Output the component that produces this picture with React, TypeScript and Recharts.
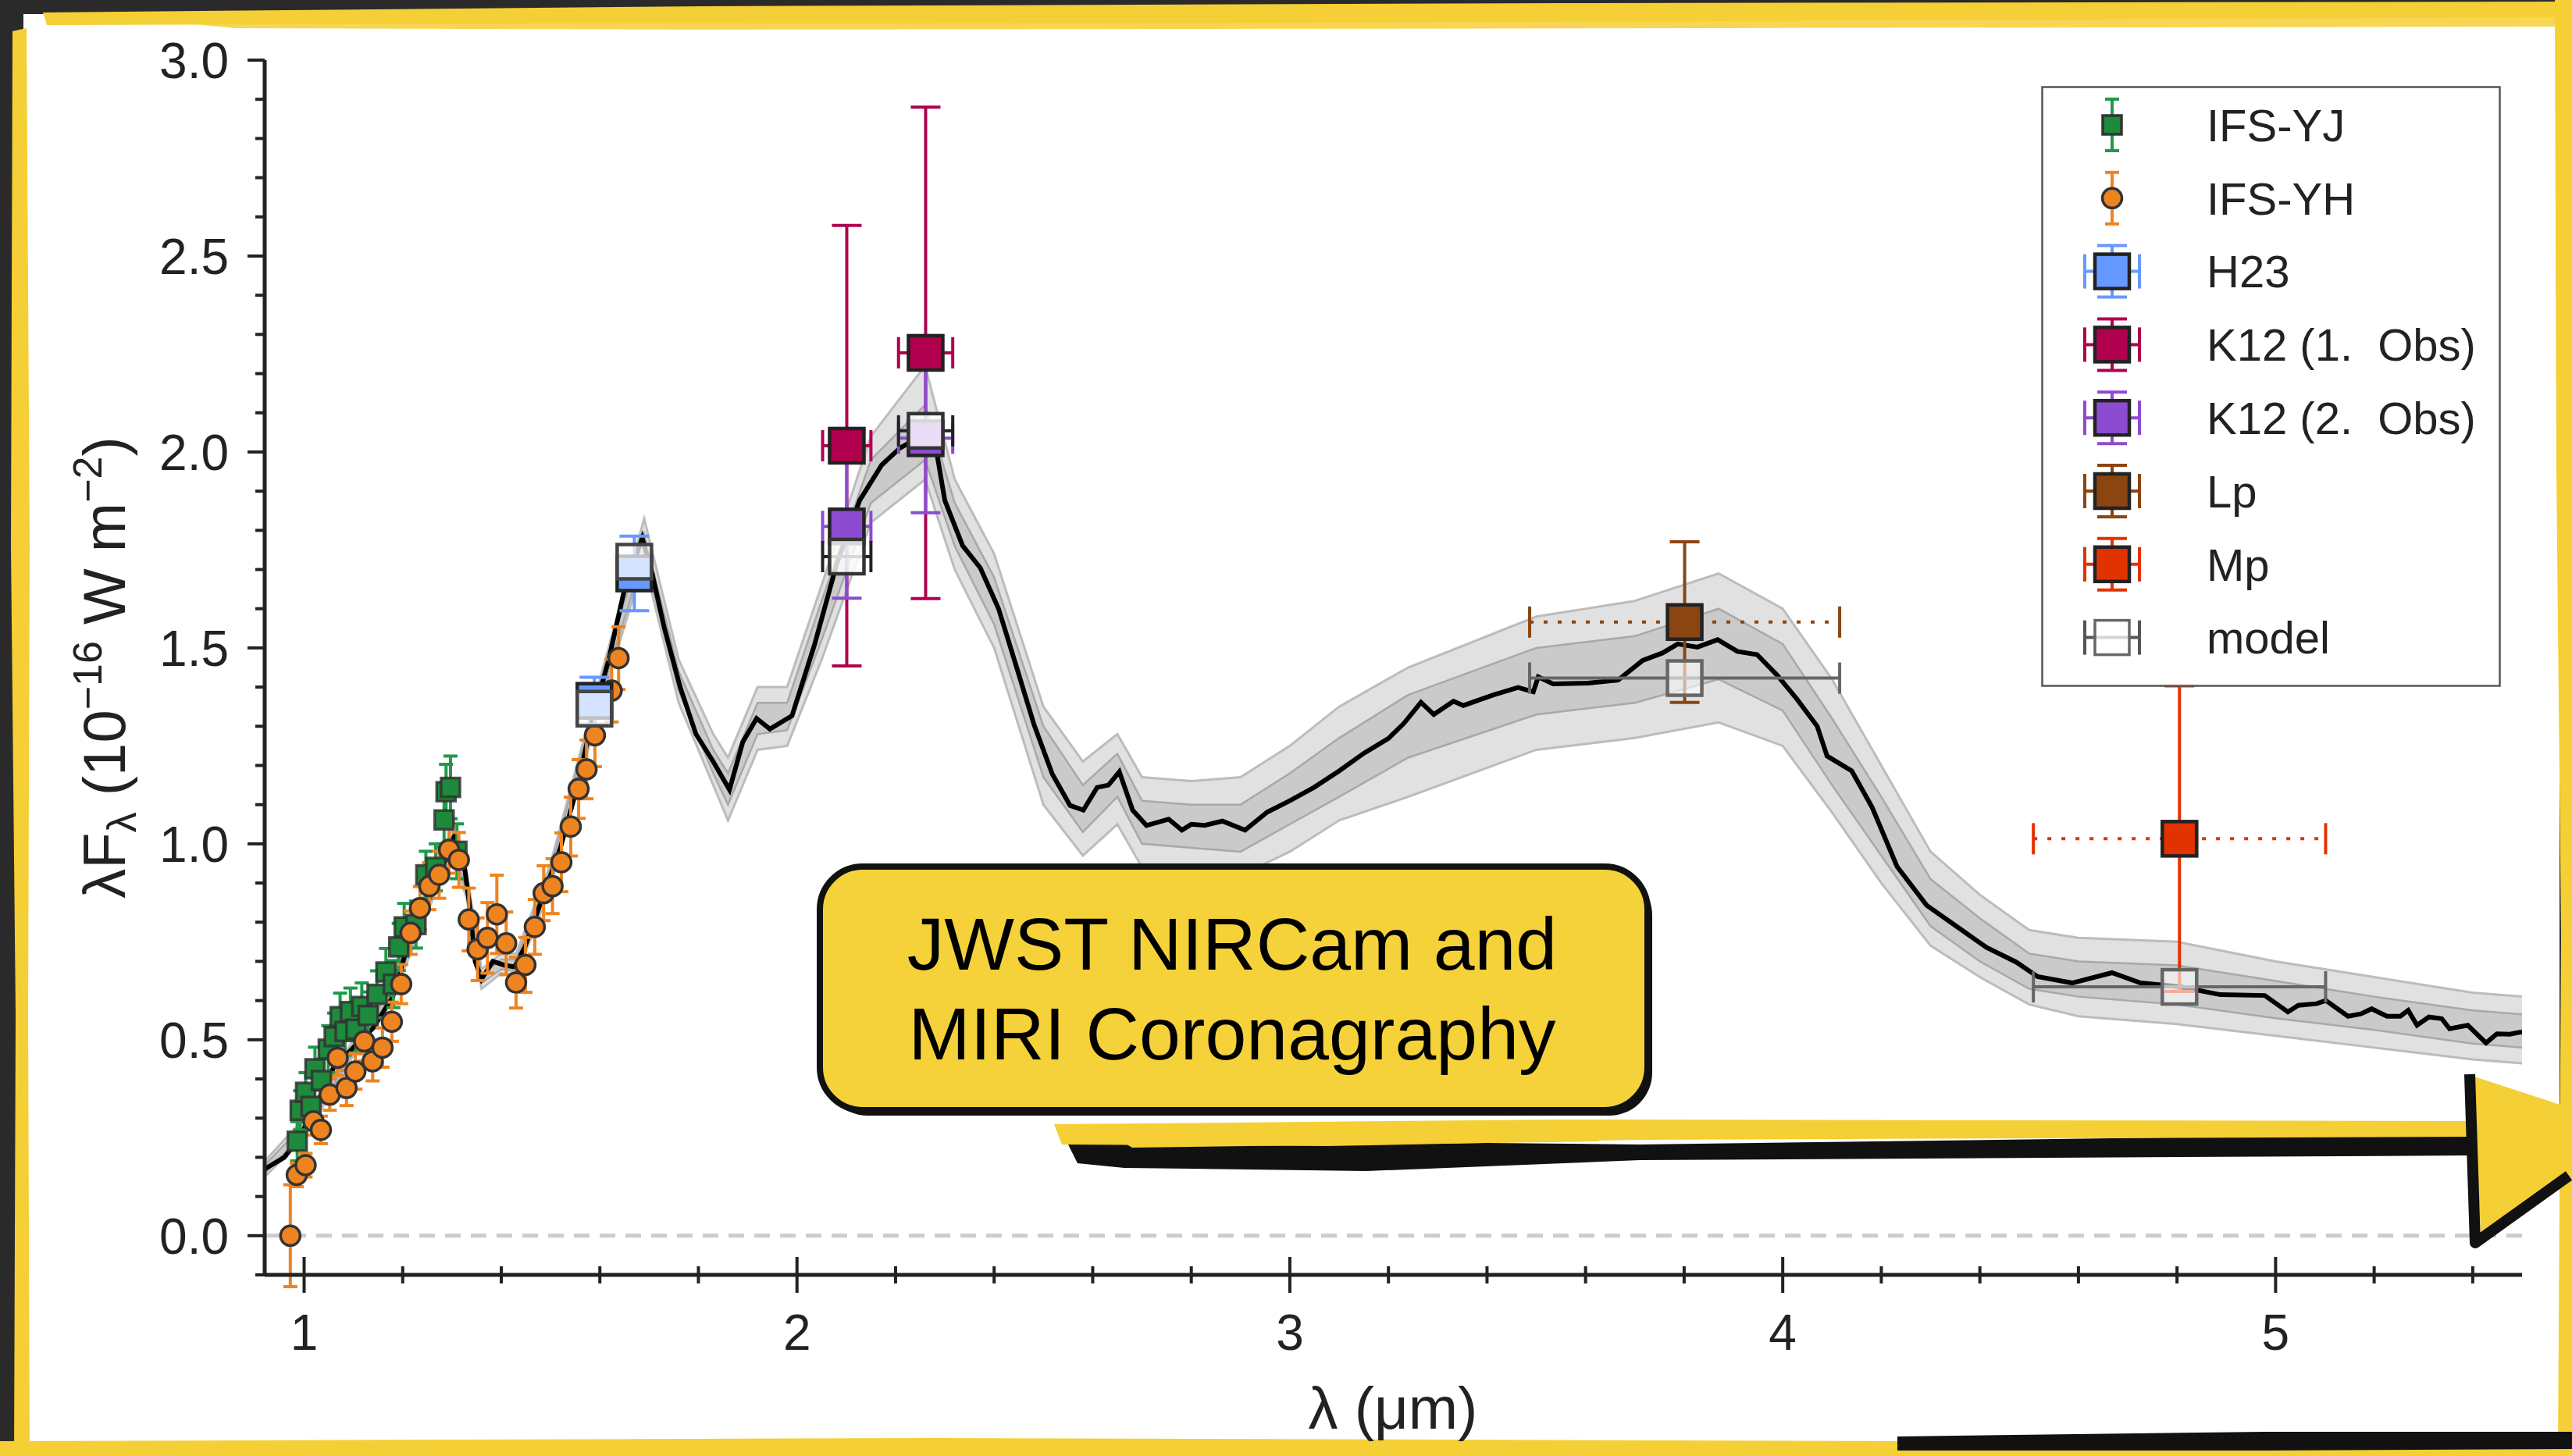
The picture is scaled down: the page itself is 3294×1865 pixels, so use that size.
import React from 'react';
import {
  ComposedChart,
  Line,
  Area,
  Scatter,
  ErrorBar,
  XAxis,
  YAxis,
  ReferenceLine,
  Legend,
} from 'recharts';

const W = 3294;
const H = 1865;
const FONT = '"Liberation Sans", Arial, sans-serif';

// best-fit model spectrum (black line)
const modelWave = [
  0.92, 0.96, 0.99, 1.02, 1.06, 1.1, 1.14, 1.18, 1.21, 1.245, 1.28, 1.305, 1.32, 1.335, 1.347,
  1.36, 1.383, 1.407, 1.427, 1.448, 1.48, 1.52, 1.553, 1.585, 1.618, 1.65, 1.686, 1.706, 1.731,
  1.763, 1.795, 1.83, 1.863, 1.89, 1.918, 1.945, 1.99, 2.036, 2.081, 2.127, 2.172, 2.209, 2.245,
  2.282, 2.3, 2.336, 2.372, 2.409, 2.445, 2.481, 2.518, 2.554, 2.581, 2.609, 2.632, 2.654, 2.681,
  2.709, 2.754, 2.781, 2.8, 2.827, 2.863, 2.909, 2.954, 3.0, 3.049, 3.1, 3.15, 3.2, 3.231, 3.266,
  3.292, 3.332, 3.352, 3.413, 3.463, 3.494, 3.504, 3.534, 3.605, 3.666, 3.716, 3.756, 3.787,
  3.827, 3.868, 3.908, 3.948, 3.989, 4.029, 4.07, 4.09, 4.14, 4.181, 4.232, 4.292, 4.353, 4.413,
  4.474, 4.517, 4.587, 4.668, 4.726, 4.807, 4.888, 4.978, 5.025, 5.046, 5.083, 5.102, 5.147,
  5.173, 5.195, 5.226, 5.253, 5.269, 5.287, 5.311, 5.337, 5.353, 5.39, 5.427, 5.449, 5.475, 5.5,
];
const modelFlux = [
  0.17, 0.2, 0.25, 0.32, 0.43, 0.48, 0.53, 0.61, 0.74, 0.85, 0.94, 1.02, 0.99, 0.85, 0.7,
  0.655, 0.7, 0.69, 0.686, 0.737, 0.85, 0.99, 1.14, 1.32, 1.47, 1.65, 1.78, 1.69, 1.55,
  1.4, 1.28, 1.21, 1.138, 1.26, 1.32, 1.293, 1.327, 1.51, 1.716, 1.876, 1.967, 2.01, 2.036,
  2.01, 1.876, 1.761, 1.704, 1.6, 1.453, 1.304, 1.178, 1.098, 1.086, 1.144, 1.15, 1.184, 1.086,
  1.047, 1.063, 1.035, 1.05, 1.047, 1.058, 1.035, 1.081, 1.11, 1.144, 1.186, 1.231, 1.269, 1.307, 1.361,
  1.33, 1.364, 1.353, 1.38, 1.399, 1.388, 1.426, 1.408, 1.41, 1.418, 1.468, 1.487, 1.51,
  1.502, 1.521, 1.491, 1.483, 1.43, 1.369, 1.3, 1.224, 1.186, 1.094, 0.942, 0.843, 0.789, 0.736,
  0.698, 0.661, 0.645, 0.671, 0.645, 0.635, 0.615, 0.613, 0.571, 0.588, 0.592, 0.6, 0.56,
  0.566, 0.579, 0.56, 0.56, 0.575, 0.537, 0.558, 0.554, 0.528, 0.537, 0.492, 0.515, 0.514, 0.52,
];

// spread of the grey sample spectra: outer envelope and denser core
const bandWave = [
  0.92, 1.0, 1.1, 1.2, 1.3, 1.33, 1.36, 1.4, 1.43, 1.5, 1.6, 1.69, 1.76, 1.83, 1.86, 1.92, 1.98,
  2.05, 2.15, 2.26, 2.32, 2.4, 2.5, 2.58, 2.65, 2.7, 2.8, 2.9, 3.0, 3.1, 3.24, 3.5, 3.7, 3.87,
  4.0, 4.1, 4.2, 4.3, 4.4, 4.5, 4.6, 4.8, 5.0, 5.2, 5.4, 5.5,
];
const bandLow = [
  0.15, 0.25, 0.46, 0.67, 0.98, 0.86, 0.63, 0.67, 0.66, 0.89, 1.35, 1.72, 1.36, 1.15, 1.06, 1.24, 1.25,
  1.47, 1.82, 1.93, 1.7, 1.5, 1.1, 0.97, 1.05, 0.94, 0.93, 0.92, 0.98, 1.06, 1.12, 1.24, 1.27, 1.31,
  1.25, 1.08, 0.9, 0.74, 0.66, 0.59, 0.56, 0.54, 0.51, 0.48, 0.45, 0.44,
];
const bandHigh = [
  0.19, 0.3, 0.5, 0.73, 1.04, 0.93, 0.68, 0.72, 0.72, 0.95, 1.42, 1.83, 1.47, 1.28, 1.22, 1.4, 1.4,
  1.66, 2.04, 2.22, 1.93, 1.74, 1.35, 1.21, 1.28, 1.17, 1.16, 1.17, 1.25, 1.35, 1.45, 1.58, 1.62, 1.69,
  1.6, 1.42, 1.2, 0.98, 0.87, 0.78, 0.76, 0.75, 0.7, 0.66, 0.62, 0.61,
];
const coreLow = [
  0.16, 0.26, 0.47, 0.685, 0.99, 0.88, 0.645, 0.68, 0.675, 0.905, 1.37, 1.74, 1.39, 1.18, 1.1, 1.28, 1.29,
  1.52, 1.87, 1.98, 1.76, 1.56, 1.17, 1.03, 1.12, 1.0, 0.99, 0.98, 1.05, 1.12, 1.22, 1.33, 1.36, 1.42,
  1.34, 1.15, 0.97, 0.79, 0.7, 0.63, 0.61, 0.59, 0.555, 0.525, 0.49, 0.48,
];
const coreHigh = [
  0.18, 0.285, 0.49, 0.715, 1.02, 0.91, 0.665, 0.705, 0.705, 0.935, 1.405, 1.79, 1.44, 1.24, 1.18, 1.36, 1.36,
  1.62, 1.98, 2.12, 1.87, 1.68, 1.3, 1.15, 1.23, 1.11, 1.1, 1.1, 1.18, 1.27, 1.38, 1.5, 1.53, 1.6,
  1.51, 1.32, 1.12, 0.91, 0.81, 0.72, 0.7, 0.69, 0.65, 0.61, 0.575, 0.565,
];

// SPHERE IFS YJ
const yjWave = [
  0.986, 0.992, 1.003, 1.014, 1.022, 1.035, 1.049, 1.061, 1.073, 1.083, 1.094, 1.105, 1.117,
  1.13, 1.148, 1.166, 1.181, 1.192, 1.203, 1.227, 1.247, 1.267, 1.284, 1.288, 1.297, 1.31,
];
const yjFlux = [
  0.241, 0.32, 0.366, 0.33, 0.426, 0.396, 0.476, 0.508, 0.559, 0.521, 0.572, 0.527, 0.585,
  0.562, 0.616, 0.673, 0.642, 0.737, 0.788, 0.794, 0.921, 0.94, 1.061, 1.133, 1.144, 0.981,
];
const yjErr = [
  0.05, 0.05, 0.05, 0.05, 0.055, 0.055, 0.06, 0.06, 0.06, 0.06, 0.06, 0.06, 0.06,
  0.06, 0.06, 0.06, 0.06, 0.06, 0.06, 0.06, 0.06, 0.06, 0.07, 0.07, 0.08, 0.07,
];

// SPHERE IFS YH
const yhWave = [
  0.972, 0.985, 1.003, 1.019, 1.034, 1.052, 1.068, 1.086, 1.104, 1.122, 1.139, 1.159, 1.178,
  1.197, 1.216, 1.235, 1.254, 1.274, 1.294, 1.314, 1.334, 1.352, 1.372, 1.391, 1.41, 1.43,
  1.449, 1.468, 1.486, 1.504, 1.522, 1.541, 1.557, 1.573, 1.59, 1.624, 1.638,
];
const yhFlux = [
  0.0, 0.155, 0.18, 0.292, 0.27, 0.36, 0.454, 0.377, 0.419, 0.496, 0.445, 0.48, 0.546,
  0.642, 0.773, 0.836, 0.892, 0.921, 0.985, 0.959, 0.807, 0.731, 0.76, 0.82, 0.746, 0.646,
  0.691, 0.788, 0.874, 0.892, 0.953, 1.044, 1.14, 1.19, 1.277, 1.391, 1.474,
];
const yhErr = [
  0.13, 0.03, 0.03, 0.035, 0.035, 0.04, 0.045, 0.045, 0.045, 0.05, 0.05, 0.05, 0.05,
  0.05, 0.055, 0.055, 0.06, 0.06, 0.06, 0.07, 0.08, 0.08, 0.09, 0.1, 0.08, 0.065,
  0.07, 0.07, 0.07, 0.07, 0.075, 0.075, 0.075, 0.075, 0.08, 0.08, 0.08,
];

// photometry
const h23Wave = [1.589, 1.67];
const h23Flux = [1.365, 1.69];
const h23Err = [0.06, 0.095];

const k12aWave = [2.101, 2.261];
const k12aFlux = [2.016, 2.253];
const k12aErr = [0.562, 0.627];
const k12aHalfWidth = [0.049, 0.055];

const k12bWave = [2.101, 2.261];
const k12bFlux = [1.81, 2.035];
const k12bErr = [0.183, 0.19];
const k12bHalfWidth = [0.049, 0.055];

const lpWave = [3.801];
const lpFlux = [1.566];
const lpErr = [0.205];
const lpHalfWidth = [0.3145];

const mpWave = [4.805];
const mpFlux = [1.013];
const mpErr = [0.39];
const mpHalfWidth = [0.2965];

// model photometry at the same bands
const modelPhotWave = [1.589, 1.67, 2.101, 2.261, 3.801, 4.805];
const modelPhotFlux = [1.345, 1.72, 1.733, 2.054, 1.423, 0.635];
const modelPhotHalfWidth = [0, 0, 0.049, 0.055, 0.3145, 0.2965];

// axes
const xDomain = [0.92, 5.5];
const yDomain = [-0.1, 3.0];
const xTicks = [
  1.0, 1.2, 1.4, 1.6, 1.8, 2.0, 2.2, 2.4, 2.6, 2.8, 3.0, 3.2, 3.4, 3.6, 3.8, 4.0, 4.2, 4.4, 4.6,
  4.8, 5.0, 5.2, 5.4,
];
const xMajor = [1, 2, 3, 4, 5];
const yTicks = [
  -0.1, 0.0, 0.1, 0.2, 0.3, 0.4, 0.5, 0.6, 0.7, 0.8, 0.9, 1.0, 1.1, 1.2, 1.3, 1.4, 1.5, 1.6, 1.7,
  1.8, 1.9, 2.0, 2.1, 2.2, 2.3, 2.4, 2.5, 2.6, 2.7, 2.8, 2.9, 3.0,
];
const yMajor = [0.0, 0.5, 1.0, 1.5, 2.0, 2.5, 3.0];

const legendLabels = [
  'IFS-YJ',
  'IFS-YH',
  'H23',
  'K12 (1.  Obs)',
  'K12 (2.  Obs)',
  'Lp',
  'Mp',
  'model',
];

const modelData = modelWave.map((x, i) => ({ x, y: modelFlux[i] }));
const bandData = bandWave.map((x, i) => ({ x, range: [bandLow[i], bandHigh[i]] }));
const coreData = bandWave.map((x, i) => ({ x, range: [coreLow[i], coreHigh[i]] }));
const yjData = yjWave.map((x, i) => ({ x, y: yjFlux[i], ey: yjErr[i] }));
const yhData = yhWave.map((x, i) => ({ x, y: yhFlux[i], ey: yhErr[i] }));
const h23Data = h23Wave.map((x, i) => ({ x, y: h23Flux[i], ey: h23Err[i] }));
const k12aData = k12aWave.map((x, i) => ({ x, y: k12aFlux[i], ey: k12aErr[i], ex: k12aHalfWidth[i] }));
const k12bData = k12bWave.map((x, i) => ({ x, y: k12bFlux[i], ey: k12bErr[i], ex: k12bHalfWidth[i] }));
const lpData = lpWave.map((x, i) => ({ x, y: lpFlux[i], ey: lpErr[i] }));
const mpData = mpWave.map((x, i) => ({ x, y: mpFlux[i], ey: mpErr[i] }));
// filter band edges of Lp / Mp (dotted horizontal bars)
const lpSpan = [
  { x: lpWave[0] - lpHalfWidth[0], y: lpFlux[0] },
  { x: lpWave[0] + lpHalfWidth[0], y: lpFlux[0] },
];
const mpSpan = [
  { x: mpWave[0] - mpHalfWidth[0], y: mpFlux[0] },
  { x: mpWave[0] + mpHalfWidth[0], y: mpFlux[0] },
];
const modelPhot = modelPhotWave.map((x, i) => ({ x, y: modelPhotFlux[i], ex: modelPhotHalfWidth[i] }));
const modelNoBar = modelPhot.slice(0, 2);
const modelK12 = modelPhot.slice(2, 4);
const modelLM = modelPhot.slice(4);

const C = {
  yj: '#1d8a3c',
  yjBar: '#1f9a48',
  yh: '#ee8420',
  h23: '#6699ff',
  k12a: '#b0004e',
  k12b: '#8c4bd0',
  lp: '#8b4511',
  mp: '#e23200',
  edge: '#222222',
  axis: '#222222',
};

const isMajor = (list: number[], v: number) => list.some((m) => Math.abs(m - v) < 1e-6);

const LeftTick = (p: any) => {
  const v = p.payload.value;
  const major = isMajor(yMajor, v);
  return (
    <g>
      <line x1={p.x - (major ? 22 : 12)} x2={p.x} y1={p.y} y2={p.y} stroke={C.axis} strokeWidth={4} />
      {major && (
        <text x={p.x - 46} y={p.y} dy="0.36em" textAnchor="end" fontSize={64} fontFamily={FONT} fill={C.axis}>
          {v.toFixed(1)}
        </text>
      )}
    </g>
  );
};

const RightTick = (p: any) => {
  const major = isMajor(yMajor, p.payload.value);
  return <line x1={p.x} x2={p.x + (major ? 24 : 12)} y1={p.y} y2={p.y} stroke={C.axis} strokeWidth={4} />;
};

const BottomTick = (p: any) => {
  const v = p.payload.value;
  const major = isMajor(xMajor, v);
  const len = major ? 23 : 11;
  return (
    <g>
      <line x1={p.x} x2={p.x} y1={p.y - len} y2={p.y + len} stroke={C.axis} strokeWidth={4} />
      {major && (
        <text x={p.x} y={p.y + 96} textAnchor="middle" fontSize={64} fontFamily={FONT} fill={C.axis}>
          {String(Math.round(v))}
        </text>
      )}
    </g>
  );
};

const TopTick = (p: any) => {
  const major = isMajor(xMajor, p.payload.value);
  return <line x1={p.x} x2={p.x} y1={p.y - (major ? 20 : 10)} y2={p.y} stroke={C.axis} strokeWidth={4} />;
};

const bigSquare = (fill: string, edge = C.edge, opacity = 1) => (p: any) => (
  <rect x={p.cx - 22} y={p.cy - 22} width={44} height={44} fill={fill} fillOpacity={opacity} stroke={edge} strokeWidth={4.5} />
);
const smallSquare = (p: any) => (
  <rect x={p.cx - 12} y={p.cy - 12} width={24} height={24} fill={C.yj} stroke="#333" strokeOpacity={0.85} strokeWidth={3.5} />
);
const circle = (p: any) => <circle cx={p.cx} cy={p.cy} r={12.5} fill={C.yh} stroke="#333" strokeWidth={3.5} />;
const vCap = (color: string) => (p: any) => (
  <line x1={p.cx} x2={p.cx} y1={p.cy - 20} y2={p.cy + 20} stroke={color} strokeWidth={4} />
);

const BarIcon = ({ cx, cy, color, vbar, hbar }: any) => (
  <g stroke={color} strokeWidth={4}>
    {vbar && (
      <>
        <line x1={cx} x2={cx} y1={cy - 33} y2={cy + 33} />
        <line x1={cx - 19} x2={cx + 19} y1={cy - 33} y2={cy - 33} />
        <line x1={cx - 19} x2={cx + 19} y1={cy + 33} y2={cy + 33} />
      </>
    )}
    {hbar && (
      <>
        <line x1={cx - 35} x2={cx + 35} y1={cy} y2={cy} />
        <line x1={cx - 35} x2={cx - 35} y1={cy - 22} y2={cy + 22} />
        <line x1={cx + 35} x2={cx + 35} y1={cy - 22} y2={cy + 22} />
      </>
    )}
  </g>
);

const LegendBox = () => {
  const cx = 91;
  const rowY = (i: number) => 50 + i * 93.8;
  const icons = [
    <g key="yj">
      <line x1={cx} x2={cx} y1={rowY(0) - 33} y2={rowY(0) + 33} stroke={C.yjBar} strokeWidth={4} />
      <line x1={cx - 9} x2={cx + 9} y1={rowY(0) - 33} y2={rowY(0) - 33} stroke={C.yjBar} strokeWidth={4} />
      <line x1={cx - 9} x2={cx + 9} y1={rowY(0) + 33} y2={rowY(0) + 33} stroke={C.yjBar} strokeWidth={4} />
      <rect x={cx - 12} y={rowY(0) - 12} width={24} height={24} fill={C.yj} stroke="#333" strokeWidth={3.5} />
    </g>,
    <g key="yh">
      <line x1={cx} x2={cx} y1={rowY(1) - 33} y2={rowY(1) + 33} stroke={C.yh} strokeWidth={4} />
      <line x1={cx - 9} x2={cx + 9} y1={rowY(1) - 33} y2={rowY(1) - 33} stroke={C.yh} strokeWidth={4} />
      <line x1={cx - 9} x2={cx + 9} y1={rowY(1) + 33} y2={rowY(1) + 33} stroke={C.yh} strokeWidth={4} />
      <circle cx={cx} cy={rowY(1)} r={12.5} fill={C.yh} stroke="#333" strokeWidth={3.5} />
    </g>,
  ];
  const squares = [C.h23, C.k12a, C.k12b, C.lp, C.mp];
  squares.forEach((col, j) => {
    const cy = rowY(j + 2);
    icons.push(
      <g key={'sq' + j}>
        <BarIcon cx={cx} cy={cy} color={col} vbar hbar />
        <rect x={cx - 22} y={cy - 22} width={44} height={44} fill={col} stroke={C.edge} strokeWidth={4.5} />
      </g>,
    );
  });
  icons.push(
    <g key="model">
      <BarIcon cx={cx} cy={rowY(7)} color="#555" hbar />
      <rect x={cx - 22} y={rowY(7) - 22} width={44} height={44} fill="#fff" fillOpacity={0.75} stroke="#666" strokeWidth={3.5} />
    </g>,
  );
  return (
    <svg width={590} height={770} style={{ display: 'block' }}>
      <rect x={1.5} y={1.5} width={586} height={767} fill="#fff" fillOpacity={0.85} stroke="#555" strokeWidth={2.5} />
      {icons}
      {legendLabels.map((t, i) => (
        <text key={t} x={212} y={rowY(i)} dy="0.36em" fontSize={58} fontFamily={FONT} fill="#222" style={{ whiteSpace: 'pre' }}>
          {t}
        </text>
      ))}
    </svg>
  );
};

const Frame = () => (
  <svg width={W} height={H} style={{ position: 'absolute', left: 0, top: 0 }}>
    <rect x={0} y={0} width={W} height={H} fill="#2a2a2a" />
    <rect x={30} y={18} width={3248} height={1832} fill="#ffffff" />
    <g fill="#f4cf35">
      <path d="M55,16 L900,8 L2000,4 L3294,2 L3294,22 L2400,26 L1500,30 L700,30 L60,32 Z" />
      <path d="M200,26 L1200,22 L3294,20 L3294,34 L2200,36 L900,38 L300,36 Z" fillOpacity={0.85} />
      <path d="M16,40 L34,36 L38,700 L36,1300 L38,1865 L18,1865 L20,1300 L14,700 Z" />
      <path d="M3272,0 L3294,0 L3294,1865 L3276,1865 L3280,1200 L3274,600 Z" />
      <path d="M0,1846 L1200,1842 L2450,1846 L2450,1865 L0,1865 Z" />
      <path d="M2400,1856 L3294,1852 L3294,1865 L2400,1865 Z" />
    </g>
    <path d="M2430,1840 L2900,1834 L3294,1834 L3294,1856 L2900,1858 L2430,1858 Z" fill="#111" />
  </svg>
);

const Overlay = () => (
  <svg width={W} height={H} style={{ position: 'absolute', left: 0, top: 0, pointerEvents: 'none' }}>
    {/* axis titles */}
    <text x={1784} y={1830} textAnchor="middle" fontSize={76} fontFamily={FONT} fill="#222">
      λ (μm)
    </text>
    <text transform="translate(160,855) rotate(-90)" textAnchor="middle" fontSize={76} fontFamily={FONT} fill="#222">
      λF
      <tspan fontSize={52} dy={14}>λ</tspan>
      <tspan dy={-14}> (10</tspan>
      <tspan fontSize={52} dy={-30}>−16</tspan>
      <tspan dy={30}> W m</tspan>
      <tspan fontSize={52} dy={-30}>−2</tspan>
      <tspan dy={30}>)</tspan>
    </text>

    {/* call-out */}
    <rect x={1056} y={1117} width={1060} height={312} rx={55} fill="#111" />
    <rect x={1050} y={1110} width={1060} height={312} rx={55} fill="#f6d23a" stroke="#111" strokeWidth={8} />
    <text x={1578} y={1242} textAnchor="middle" fontSize={95} fontFamily={FONT} fill="#000">
      JWST NIRCam and
    </text>
    <text x={1578} y={1357} textAnchor="middle" fontSize={95} fontFamily={FONT} fill="#000">
      MIRI Coronagraphy
    </text>

    {/* arrow */}
    <g fill="#111">
      <path d="M1365,1460 L1700,1462 L2100,1466 L3165,1452 L3165,1480 L2100,1486 L1750,1500 L1440,1496 L1380,1490 Z" />
      <path d="M1520,1478 L2200,1474 L2200,1484 L1560,1492 Z" />
    </g>
    <g fill="#f4cf35">
      <path d="M1350,1440 L2000,1434 L3165,1436 L3165,1456 L2100,1460 L1700,1468 L1360,1466 Z" />
      <path d="M1420,1452 L2000,1450 L2050,1462 L1450,1470 Z" />
    </g>
    <path d="M3166,1378 L3294,1420 L3294,1505 L3178,1592 Z" fill="#f4cf35" />
    <path d="M3163,1376 L3170,1592 L3290,1506" fill="none" stroke="#111" strokeWidth={14} strokeLinejoin="round" />
  </svg>
);

export default function App() {
  return (
    <div style={{ position: 'absolute', left: 0, top: 0, width: W, height: H, overflow: 'hidden', fontFamily: FONT }}>
      <Frame />
      <div style={{ position: 'absolute', left: 0, top: 0 }}>
        <ComposedChart width={W} height={H} margin={{ top: 77, right: 64, bottom: 132, left: 219 }}>
          <XAxis
            dataKey="x"
            type="number"
            domain={xDomain}
            ticks={xTicks}
            allowDataOverflow
            interval={0}
            height={100}
            tickSize={0}
            tickMargin={0}
            tickLine={false}
            tick={(p: any) => <BottomTick {...p} />}
            axisLine={{ stroke: C.axis, strokeWidth: 5 }}
          />
          <XAxis
            xAxisId="top"
            orientation="top"
            type="number"
            domain={xDomain}
            ticks={xTicks}
            allowDataOverflow
            interval={0}
            height={0}
            tickSize={0}
            tickMargin={0}
            tickLine={false}
            tick={(p: any) => <TopTick {...p} />}
            axisLine={{ stroke: C.axis, strokeWidth: 5 }}
          />
          <YAxis
            type="number"
            domain={yDomain}
            ticks={yTicks}
            allowDataOverflow
            interval={0}
            width={120}
            tickSize={0}
            tickMargin={0}
            tickLine={false}
            tick={(p: any) => <LeftTick {...p} />}
            axisLine={{ stroke: C.axis, strokeWidth: 5 }}
          />
          <YAxis
            yAxisId="right"
            orientation="right"
            type="number"
            domain={yDomain}
            ticks={yTicks}
            allowDataOverflow
            interval={0}
            width={0}
            tickSize={0}
            tickMargin={0}
            tickLine={false}
            tick={(p: any) => <RightTick {...p} />}
            axisLine={{ stroke: C.axis, strokeWidth: 5 }}
          />
          <ReferenceLine y={0} stroke="#cccccc" strokeWidth={5} strokeDasharray="20 13" />

          <Area
            data={bandData}
            dataKey="range"
            type="linear"
            stroke="#bcbcbc"
            strokeWidth={3}
            fill="#cdcdcd"
            fillOpacity={0.6}
            isAnimationActive={false}
            legendType="none"
          />
          <Area
            data={coreData}
            dataKey="range"
            type="linear"
            stroke="#a8a8a8"
            strokeWidth={2.5}
            fill="#a0a0a0"
            fillOpacity={0.35}
            isAnimationActive={false}
            legendType="none"
          />
          <Line
            data={modelData}
            dataKey="y"
            type="linear"
            stroke="#000"
            strokeWidth={6}
            dot={false}
            isAnimationActive={false}
            legendType="none"
          />

          <Scatter data={yjData} dataKey="y" shape={smallSquare} isAnimationActive={false}>
            <ErrorBar dataKey="ey" direction="y" width={9} stroke={C.yjBar} strokeWidth={4} />
          </Scatter>
          <Scatter data={yhData} dataKey="y" shape={circle} isAnimationActive={false}>
            <ErrorBar dataKey="ey" direction="y" width={9} stroke={C.yh} strokeWidth={4} />
          </Scatter>
          <Scatter data={h23Data} dataKey="y" shape={bigSquare(C.h23)} isAnimationActive={false}>
            <ErrorBar dataKey="ey" direction="y" width={19} stroke={C.h23} strokeWidth={4} />
          </Scatter>
          <Scatter data={k12aData} dataKey="y" shape={bigSquare(C.k12a)} isAnimationActive={false}>
            <ErrorBar dataKey="ey" direction="y" width={19} stroke={C.k12a} strokeWidth={4} />
            <ErrorBar dataKey="ex" direction="x" width={20} stroke={C.k12a} strokeWidth={4} />
          </Scatter>
          <Scatter data={k12bData} dataKey="y" shape={bigSquare(C.k12b)} isAnimationActive={false}>
            <ErrorBar dataKey="ey" direction="y" width={19} stroke={C.k12b} strokeWidth={4} />
            <ErrorBar dataKey="ex" direction="x" width={20} stroke={C.k12b} strokeWidth={4} />
          </Scatter>

          <Line data={lpSpan} dataKey="y" type="linear" stroke={C.lp} strokeWidth={4} strokeDasharray="5 13" dot={false} isAnimationActive={false} legendType="none" />
          <Scatter data={lpSpan} dataKey="y" shape={vCap(C.lp)} isAnimationActive={false} />
          <Scatter data={lpData} dataKey="y" shape={bigSquare(C.lp)} isAnimationActive={false}>
            <ErrorBar dataKey="ey" direction="y" width={19} stroke={C.lp} strokeWidth={4} />
          </Scatter>
          <Line data={mpSpan} dataKey="y" type="linear" stroke={C.mp} strokeWidth={4} strokeDasharray="5 13" dot={false} isAnimationActive={false} legendType="none" />
          <Scatter data={mpSpan} dataKey="y" shape={vCap(C.mp)} isAnimationActive={false} />
          <Scatter data={mpData} dataKey="y" shape={bigSquare(C.mp)} isAnimationActive={false}>
            <ErrorBar dataKey="ey" direction="y" width={19} stroke={C.mp} strokeWidth={4} />
          </Scatter>

          <Scatter data={modelNoBar} dataKey="y" shape={bigSquare('#ffffff', '#444', 0.72)} isAnimationActive={false} />
          <Scatter data={modelK12} dataKey="y" shape={bigSquare('#ffffff', '#333', 0.82)} isAnimationActive={false}>
            <ErrorBar dataKey="ex" direction="x" width={20} stroke="#222" strokeWidth={4} />
          </Scatter>
          <Scatter data={modelLM} dataKey="y" shape={bigSquare('#ffffff', '#666', 0.6)} isAnimationActive={false}>
            <ErrorBar dataKey="ex" direction="x" width={20} stroke="#666" strokeWidth={4} />
          </Scatter>

          <Legend
            layout="horizontal"
            align="center"
            verticalAlign="middle"
            content={() => <LegendBox />}
            wrapperStyle={{ left: 2614, top: 110, width: 590, height: 770 }}
          />
        </ComposedChart>
      </div>
      <Overlay />
    </div>
  );
}
